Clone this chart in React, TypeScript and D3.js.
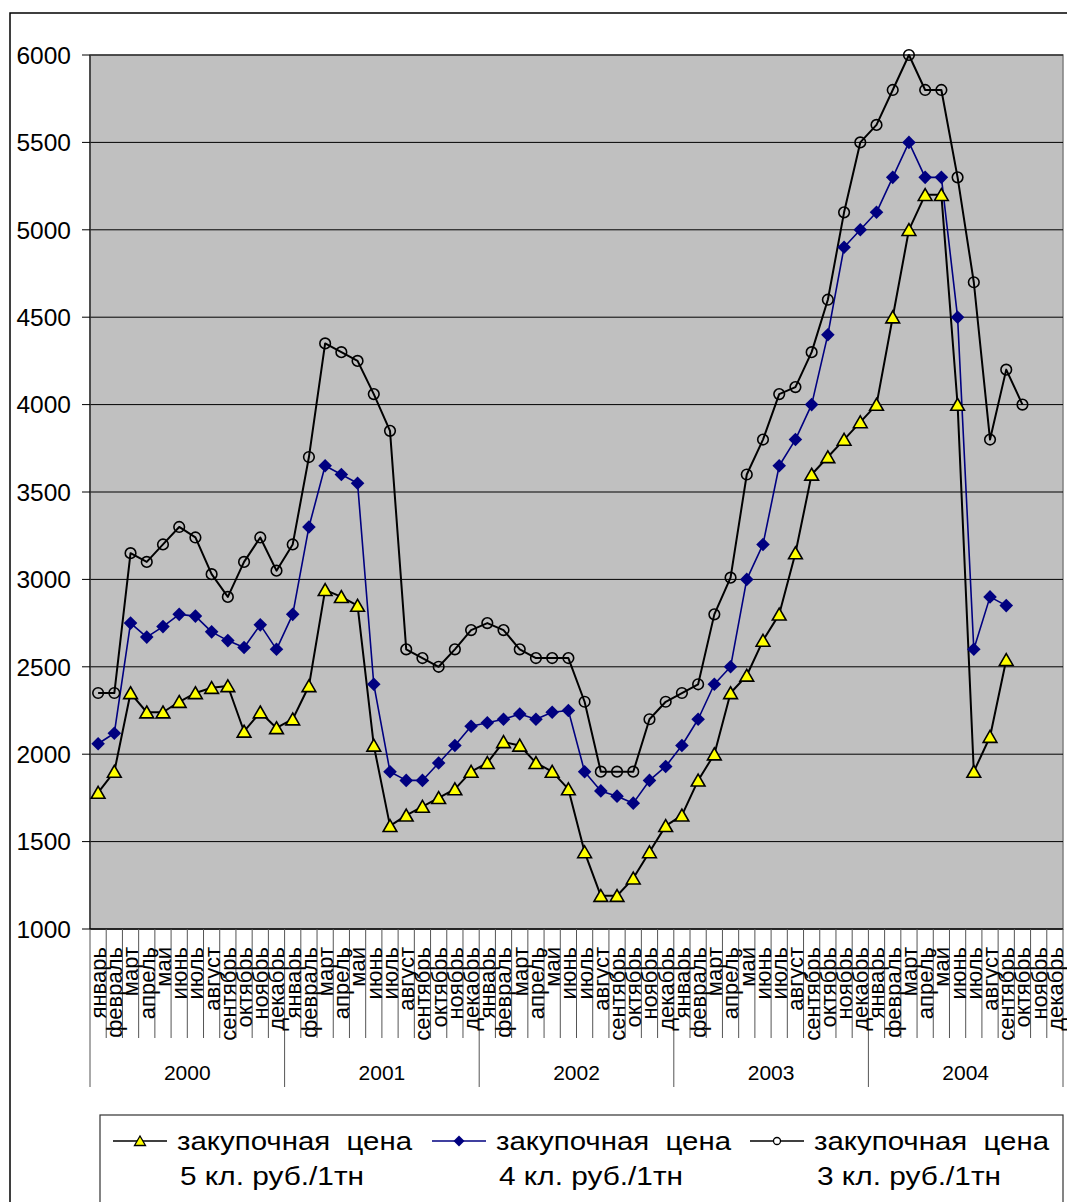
import React, { useEffect, useRef } from 'react';
import * as d3 from 'd3';

const months = ['январь', 'февраль', 'март', 'апрель', 'май', 'июнь', 'июль', 'август', 'сентябрь', 'октябрь', 'ноябрь', 'декабрь'];
const years = ['2000', '2001', '2002', '2003', '2004'];

// закупочная цена 5 кл. руб./1тн
const grade5 = [
  1780, 1900, 2350, 2240, 2240, 2300, 2350, 2380, 2390, 2130, 2240, 2150,
  2200, 2390, 2940, 2900, 2850, 2050, 1590, 1650, 1700, 1750, 1800, 1900,
  1950, 2070, 2050, 1950, 1900, 1800, 1440, 1190, 1190, 1290, 1440, 1590,
  1650, 1850, 2000, 2350, 2450, 2650, 2800, 3150, 3600, 3700, 3800, 3900,
  4000, 4500, 5000, 5200, 5200, 4000, 1900, 2100, 2540, null, null, null,
];

// закупочная цена 4 кл. руб./1тн
const grade4 = [
  2060, 2120, 2750, 2670, 2730, 2800, 2790, 2700, 2650, 2610, 2740, 2600,
  2800, 3300, 3650, 3600, 3550, 2400, 1900, 1850, 1850, 1950, 2050, 2160,
  2180, 2200, 2230, 2200, 2240, 2250, 1900, 1790, 1760, 1720, 1850, 1930,
  2050, 2200, 2400, 2500, 3000, 3200, 3650, 3800, 4000, 4400, 4900, 5000,
  5100, 5300, 5500, 5300, 5300, 4500, 2600, 2900, 2850, null, null, null,
];

// закупочная цена 3 кл. руб./1тн
const grade3 = [
  2350, 2350, 3150, 3100, 3200, 3300, 3240, 3030, 2900, 3100, 3240, 3050,
  3200, 3700, 4350, 4300, 4250, 4060, 3850, 2600, 2550, 2500, 2600, 2710,
  2750, 2710, 2600, 2550, 2550, 2550, 2300, 1900, 1900, 1900, 2200, 2300,
  2350, 2400, 2800, 3010, 3600, 3800, 4060, 4100, 4300, 4600, 5100, 5500,
  5600, 5800, 6000, 5800, 5800, 5300, 4700, 3800, 4200, 4000, null, null,
];

const yTicks = [1000, 1500, 2000, 2500, 3000, 3500, 4000, 4500, 5000, 5500, 6000];

const FONT = '"Liberation Sans", Arial, sans-serif';
const W = 1067;
const H = 1202;

const triPath = (s: number) => `M0,${-s * 0.5} L${s * 0.55},${s * 0.45} L${-s * 0.55},${s * 0.45} Z`;
const diaPath = (s: number) => `M0,${-s} L${s},0 L0,${s} L${-s},0 Z`;

export default function App() {
  const ref = useRef<SVGSVGElement>(null);

  useEffect(() => {
    if (!ref.current) return;
    const svg = d3.select(ref.current);
    svg.selectAll('*').remove();

    const left = 90, right = 1063, top = 55, bottom = 929;
    const idx = d3.range(years.length * months.length);

    const x = d3.scaleBand<number>().domain(idx).range([left, right]);
    const y = d3.scaleLinear().domain([1000, 6000]).range([bottom, top]);
    const cx = (i: number) => (x(i) || 0) + x.bandwidth() / 2;

    // chart border
    svg.append('rect')
      .attr('x', 10).attr('y', 13)
      .attr('width', W + 20).attr('height', H + 20)
      .attr('fill', '#fff').attr('stroke', '#000').attr('stroke-width', 1.5);

    // plot area
    svg.append('rect')
      .attr('x', left).attr('y', top)
      .attr('width', right - left).attr('height', bottom - top)
      .attr('fill', '#c0c0c0').attr('stroke', '#808080').attr('stroke-width', 1.5);

    // gridlines
    svg.append('g').selectAll('line')
      .data(yTicks.filter(t => t > 1000))
      .enter().append('line')
      .attr('x1', left).attr('x2', right)
      .attr('y1', d => y(d)).attr('y2', d => y(d))
      .attr('stroke', '#000').attr('stroke-width', 1);

    // value axis
    svg.append('line')
      .attr('x1', left).attr('x2', left).attr('y1', top).attr('y2', bottom)
      .attr('stroke', '#333').attr('stroke-width', 1.5);
    const ya = svg.append('g');
    ya.selectAll('line')
      .data(yTicks).enter().append('line')
      .attr('x1', left - 8).attr('x2', left)
      .attr('y1', d => y(d)).attr('y2', d => y(d))
      .attr('stroke', '#000');
    ya.selectAll('text')
      .data(yTicks).enter().append('text')
      .attr('x', 71).attr('y', d => y(d)).attr('dy', '0.36em')
      .attr('text-anchor', 'end')
      .attr('font-family', FONT).attr('font-size', 24.5)
      .text(d => d);

    // category axis
    svg.append('line')
      .attr('x1', left).attr('x2', right).attr('y1', bottom).attr('y2', bottom)
      .attr('stroke', '#000').attr('stroke-width', 1.5);
    const xa = svg.append('g');
    xa.selectAll('line')
      .data(d3.range(idx.length + 1))
      .enter().append('line')
      .attr('x1', d => left + d * x.step()).attr('x2', d => left + d * x.step())
      .attr('y1', bottom)
      .attr('y2', d => (d % 12 === 0 ? 1087 : 1038))
      .attr('stroke', '#555').attr('stroke-width', 1);
    xa.selectAll('text.month')
      .data(idx).enter().append('text')
      .attr('class', 'month')
      .attr('transform', d => `translate(${cx(d)},947) rotate(-90)`)
      .attr('dy', '0.36em')
      .attr('text-anchor', 'end')
      .attr('font-family', FONT).attr('font-size', 22)
      .text(d => months[d % 12]);
    xa.selectAll('text.year')
      .data(years).enter().append('text')
      .attr('class', 'year')
      .attr('x', (d, i) => left + (i * 12 + 6) * x.step())
      .attr('y', 1072).attr('dy', '0.36em')
      .attr('text-anchor', 'middle')
      .attr('font-family', FONT).attr('font-size', 21)
      .text(d => d);

    const line = d3.line<number | null>()
      .defined(d => d != null)
      .x((d, i) => cx(i))
      .y(d => y(d as number));

    const series = [
      { data: grade3, color: '#000', width: 2 },
      { data: grade4, color: '#000080', width: 1.6 },
      { data: grade5, color: '#000', width: 2 },
    ];
    series.forEach(s => {
      svg.append('path')
        .attr('d', line(s.data) || '')
        .attr('fill', 'none')
        .attr('stroke', s.color)
        .attr('stroke-width', s.width)
        .attr('stroke-linejoin', 'round');
    });

    const pts = (data: (number | null)[]) =>
      data.map((v, i) => ({ v, i })).filter(p => p.v != null) as { v: number; i: number }[];

    svg.append('g').selectAll('circle')
      .data(pts(grade3)).enter().append('circle')
      .attr('cx', d => cx(d.i)).attr('cy', d => y(d.v)).attr('r', 5.3)
      .attr('fill', 'none').attr('stroke', '#000').attr('stroke-width', 1.6);

    svg.append('g').selectAll('path')
      .data(pts(grade4)).enter().append('path')
      .attr('transform', d => `translate(${cx(d.i)},${y(d.v)})`)
      .attr('d', diaPath(6.8))
      .attr('fill', '#000080');

    svg.append('g').selectAll('path')
      .data(pts(grade5)).enter().append('path')
      .attr('transform', d => `translate(${cx(d.i)},${y(d.v)})`)
      .attr('d', triPath(12.5))
      .attr('fill', '#ffff00').attr('stroke', '#000').attr('stroke-width', 1.6)
      .attr('stroke-linejoin', 'miter');

    // legend
    const lg = svg.append('g');
    lg.append('rect')
      .attr('x', 100).attr('y', 1115).attr('width', right - 100).attr('height', 120)
      .attr('fill', '#fff').attr('stroke', '#333').attr('stroke-width', 1.2);

    const entries = [
      { x0: 113, label: '5 кл. руб./1тн', color: '#000', kind: 'tri' },
      { x0: 432, label: '4 кл. руб./1тн', color: '#000080', kind: 'dia' },
      { x0: 750, label: '3 кл. руб./1тн', color: '#000', kind: 'circ' },
    ];
    entries.forEach(e => {
      const ly = 1141;
      lg.append('line')
        .attr('x1', e.x0).attr('x2', e.x0 + 54).attr('y1', ly).attr('y2', ly)
        .attr('stroke', e.color).attr('stroke-width', 1.6);
      const mx = e.x0 + 27;
      if (e.kind === 'tri') {
        lg.append('path').attr('transform', `translate(${mx},${ly})`).attr('d', triPath(10))
          .attr('fill', '#ffff00').attr('stroke', '#000').attr('stroke-width', 1.3);
      } else if (e.kind === 'dia') {
        lg.append('path').attr('transform', `translate(${mx},${ly})`).attr('d', diaPath(5.5))
          .attr('fill', '#000080');
      } else {
        lg.append('circle').attr('cx', mx).attr('cy', ly).attr('r', 3.5)
          .attr('fill', '#fff').attr('stroke', '#000').attr('stroke-width', 1.3);
      }
      lg.append('text')
        .attr('x', e.x0 + 64).attr('y', ly).attr('dy', '0.36em')
        .attr('font-family', FONT).attr('font-size', 26)
        .attr('textLength', 235).attr('lengthAdjust', 'spacingAndGlyphs')
        .style('white-space', 'pre')
        .text('закупочная  цена');
      lg.append('text')
        .attr('x', e.x0 + 67).attr('y', 1176).attr('dy', '0.36em')
        .attr('font-family', FONT).attr('font-size', 26)
        .attr('textLength', 184).attr('lengthAdjust', 'spacingAndGlyphs')
        .text(e.label);
    });
  }, []);

  return (
    <div style={{ position: 'absolute', left: 0, top: 0 }}>
      <svg ref={ref} width={W} height={H} style={{ display: 'block' }} />
    </div>
  );
}
